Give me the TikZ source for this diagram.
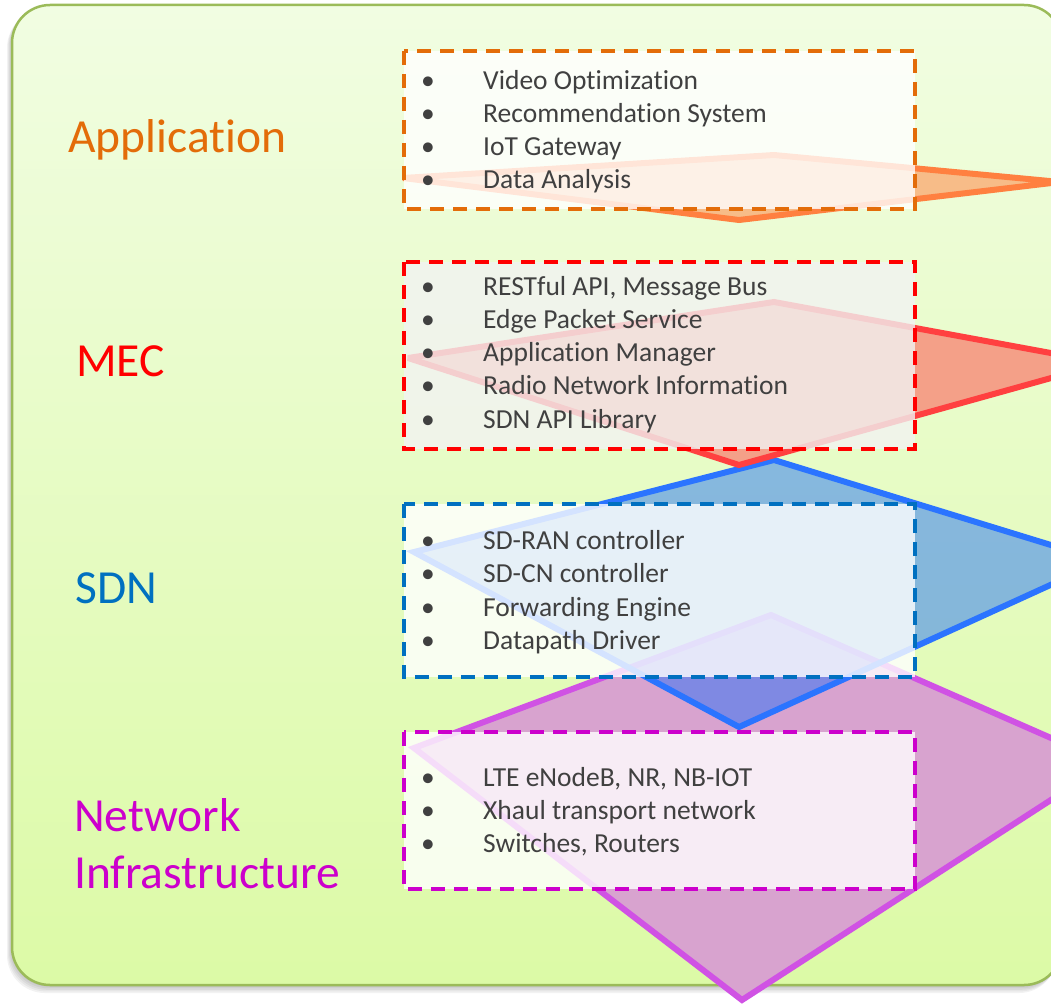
\documentclass[tikz,border=0pt]{standalone}
\usepackage{fontspec}
\setmainfont{Carlito}[Ligatures=NoCommon]
\definecolor{bgtop}{RGB}{241,253,226}
\definecolor{bgbot}{RGB}{220,250,166}
\definecolor{bgline}{RGB}{155,187,89}
\definecolor{appc}{RGB}{227,108,9}
\definecolor{mecc}{RGB}{255,0,0}
\definecolor{sdnc}{RGB}{0,112,192}
\definecolor{nic}{RGB}{204,0,204}
\definecolor{txt}{RGB}{64,64,64}
\definecolor{orS}{RGB}{255,128,64}
\definecolor{orF}{RGB}{247,188,136}
\definecolor{rdS}{RGB}{255,64,64}
\definecolor{rdF}{RGB}{244,160,136}
\definecolor{blS}{RGB}{43,116,255}
\definecolor{blF}{RGB}{30,110,250}
\definecolor{puS}{RGB}{208,82,228}
\definecolor{puF}{RGB}{216,163,207}
\tikzset{
  layerbox/.style={line width=4pt, dash pattern=on 14pt off 9pt, fill=white, fill opacity=0.8},
  dia/.style={line width=6pt, line join=miter, miter limit=4},
  item/.style={anchor=base west, inner sep=0pt, text=txt, font=\fontsize{27.5}{33}\selectfont},
  bul/.style={anchor=base, inner sep=0pt, text=txt, font=\fontsize{27.5}{33}\selectfont},
  lab/.style={anchor=base west, inner sep=0pt, font=\fontsize{47.5}{57}\selectfont}
}
\begin{document}
\begin{tikzpicture}[x=1pt,y=-1pt]
\useasboundingbox (0,0) rectangle (1051,1003);
% shadow
\foreach \k/\o in {1/0.05,2/0.05,3/0.05,4/0.05,5/0.05}{
  \fill[black, opacity=\o, rounded corners=38pt] ({12-\k},{5+\k}) rectangle ({1062-\k},{985+1.6*\k});
}
% background panel
\shade[top color=bgtop, bottom color=bgbot, rounded corners=38pt] (12,5) rectangle (1062,985);
\draw[bgline, line width=2.5pt, rounded corners=38pt] (12,5) rectangle (1062,985);
% diamonds
\filldraw[dia, draw=puS, fill=puF] (414,748) coordinate (pL) -- (771,615) coordinate (pT) -- (1108,763) coordinate (pR) -- (742,1000) coordinate (pB) -- cycle;
\filldraw[dia, draw=blS, fill=blF, fill opacity=0.48] (414,552) coordinate (bL) -- (774,460) coordinate (bT) -- (1103,561) coordinate (bR) -- (739,727) coordinate (bB) -- cycle;
\filldraw[dia, draw=rdS, fill=rdF] (408,358) coordinate (rL) -- (774,302) coordinate (rT) -- (1105,363) coordinate (rR) -- (739,465) coordinate (rB) -- cycle;
\filldraw[dia, draw=orS, fill=orF] (403,178) coordinate (oL) -- (774,155) coordinate (oT) -- (1060,182) coordinate (oR) -- (739,220) coordinate (oB) -- cycle;
% layer boxes
\path[layerbox, draw=appc] (404,51) rectangle (915,209);
\path[layerbox, draw=mecc, fill=black!5] (404,262) rectangle (915,449);
\path[layerbox, draw=sdnc] (404,504) rectangle (915,677);
\path[layerbox, draw=nic] (404,732) rectangle (915,889);
% labels
\node[lab, text=appc] (labapp) at (68,152.7) {Application};
\node[lab, text=mecc] (labmec) at (76,376.7) {MEC};
\node[lab, text=sdnc] (labsdn) at (75,603.3) {SDN};
\node[lab, text=nic] (labni1) at (74,831) {Network};
\node[lab, text=nic] (labni2) at (74,888) {Infrastructure};
% bullet items
\foreach \t [count=\i] in {Video Optimization, Recommendation System, IoT Gateway, Data Analysis}{
  \node[item] (app\i) at (483,{89.3+33.1*(\i-1)}) {\t};
  \node[bul] (appb\i) at (428,{89.3+33.1*(\i-1)}) {•};
}
\foreach \t [count=\i] in {{RESTful API, Message Bus}, Edge Packet Service, Application Manager, Radio Network Information, SDN API Library}{
  \node[item] (mec\i) at (483,{295+33.3*(\i-1)}) {\t};
  \node[bul] (mecb\i) at (428,{295+33.3*(\i-1)}) {•};
}
\foreach \t [count=\i] in {SD-RAN controller, SD-CN controller, Forwarding Engine, Datapath Driver}{
  \node[item] (sdn\i) at (483,{549.3+33.5*(\i-1)}) {\t};
  \node[bul] (sdnb\i) at (428,{549.3+33.5*(\i-1)}) {•};
}
\foreach \t [count=\i] in {{LTE eNodeB, NR, NB-IOT}, Xhaul transport network, {Switches, Routers}}{
  \node[item] (ni\i) at (483,{786+33.3*(\i-1)}) {\t};
  \node[bul] (nib\i) at (428,{786+33.3*(\i-1)}) {•};
}
\end{tikzpicture}
\end{document}
